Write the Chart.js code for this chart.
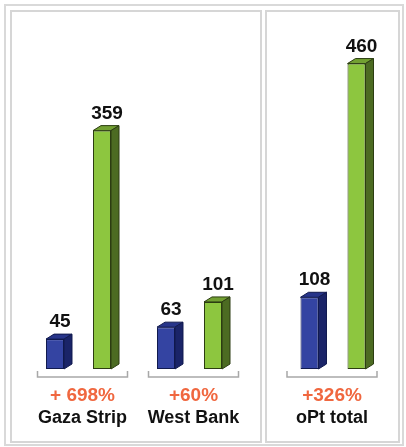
<!DOCTYPE html>
<html>
<head>
<meta charset="utf-8">
<script src="https://cdn.jsdelivr.net/npm/chart.js@4.4.0/dist/chart.umd.min.js"></script>
<style>
  body { margin: 0; background: #fff; width: 406px; height: 447px; overflow: hidden; position: relative; }
  .frame { position: absolute; left: 4px; top: 4px; width: 400px; height: 442px; box-sizing: border-box; border: 2px solid #d9d9d9; }
  .panel { position: absolute; top: 10px; height: 433px; box-sizing: border-box; border: 2px solid #d6d6d6; }
  .wrap { position: absolute; left: -2px; top: -2px; height: 433px; }
</style>
</head>
<body>
<div class="frame"></div>
<div class="panel" style="left:10px; width:252px;"><div class="wrap" style="width:252px;"><canvas id="leftChart"></canvas></div></div>
<div class="panel" style="left:265px; width:135px;"><div class="wrap" style="width:135px;"><canvas id="rightChart"></canvas></div></div>
<script>
// regions in each panel
const leftCategories = ["Gaza Strip", "West Bank"]
const rightCategories = ["oPt total"]

// first and second period values
const leftFirst = [45, 63]
const leftSecond = [359, 101]
const rightFirst = [108]
const rightSecond = [460]

// change labels under each group
const leftChange = ["+ 698%", "+60%"]
const rightChange = ["+326%"]

const faces = [
    { front: "#3444a2", top: "#27358a", side: "#1a2468", line: "#111a4e" },
    { front: "#8dc63f", top: "#72a032", side: "#4c6b22", line: "#2c3d12" }
]

const depthX = 8
const depthY = 5

const boxPlugin = {
    id: "boxes",
    afterDatasetsDraw(chart, args, opts) {
        const ctx = chart.ctx
        ctx.save()
        chart.data.datasets.forEach((ds, di) => {
            const c = faces[di]
            chart.getDatasetMeta(di).data.forEach((bar, i) => {
                let { x, y, base, width } = bar.getProps(["x", "y", "base", "width"], true)
                let l = x - width / 2, r = x + width / 2
                ctx.lineWidth = 1
                ctx.strokeStyle = c.line
                // top face
                ctx.beginPath()
                ctx.moveTo(l, y)
                ctx.lineTo(l + depthX, y - depthY)
                ctx.lineTo(r + depthX, y - depthY)
                ctx.lineTo(r, y)
                ctx.closePath()
                ctx.fillStyle = c.top
                ctx.fill()
                ctx.stroke()
                // side face
                ctx.beginPath()
                ctx.moveTo(r, y)
                ctx.lineTo(r + depthX, y - depthY)
                ctx.lineTo(r + depthX, base - depthY)
                ctx.lineTo(r, base)
                ctx.closePath()
                ctx.fillStyle = c.side
                ctx.fill()
                ctx.stroke()
                // value
                ctx.fillStyle = "#111"
                ctx.font = "bold 19px 'Liberation Sans', Arial, sans-serif"
                ctx.textAlign = "center"
                ctx.textBaseline = "alphabetic"
                ctx.fillText(ds.data[i], x + 5, y - depthY - 7)
            })
        })
        // brackets, change and category labels
        const xs = chart.scales.x
        const baseY = chart.scales.y.getPixelForValue(0)
        chart.data.labels.forEach((label, i) => {
            let cx = xs.getPixelForValue(i) + opts.shift
            ctx.strokeStyle = "#a8a8a8"
            ctx.lineWidth = 1.5
            ctx.beginPath()
            ctx.moveTo(cx - 45, baseY + 2)
            ctx.lineTo(cx - 45, baseY + 8)
            ctx.lineTo(cx + 45, baseY + 8)
            ctx.lineTo(cx + 45, baseY + 2)
            ctx.stroke()
            ctx.textAlign = "center"
            ctx.fillStyle = "#f0673f"
            ctx.font = "bold 19px 'Liberation Sans', Arial, sans-serif"
            ctx.fillText(opts.change[i], cx, baseY + 32)
            ctx.fillStyle = "#111"
            ctx.font = "bold 18px 'Liberation Sans', Arial, sans-serif"
            ctx.fillText(label, cx, baseY + 54)
        })
        ctx.restore()
    }
}

function makeChart(id, labels, first, second, change, pad, shift) {
    const ctx = document.getElementById(id).getContext("2d")
    return new Chart(ctx, {
        type: "bar",
        data: {
            labels: labels,
            datasets: [
                { label: "first", data: first, backgroundColor: faces[0].front, borderColor: faces[0].line, borderWidth: 1, borderSkipped: false },
                { label: "second", data: second, backgroundColor: faces[1].front, borderColor: faces[1].line, borderWidth: 1, borderSkipped: false }
            ]
        },
        options: {
            responsive: true,
            maintainAspectRatio: false,
            animation: false,
            categoryPercentage: 0.847,
            barPercentage: 0.383,
            layout: { padding: pad },
            plugins: {
                legend: { display: false },
                tooltip: { enabled: false },
                boxes: { change: change, shift: shift }
            },
            scales: {
                x: { display: false },
                y: { display: false, min: 0, max: 500 }
            }
        },
        plugins: [boxPlugin]
    })
}

makeChart("leftChart", leftCategories, leftFirst, leftSecond, leftChange, { left: 13, right: 17, top: 27, bottom: 74 }, 4)
makeChart("rightChart", rightCategories, rightFirst, rightSecond, rightChange, { left: 12.5, right: 11.5, top: 27, bottom: 74 }, -1)
</script>
</body>
</html>
